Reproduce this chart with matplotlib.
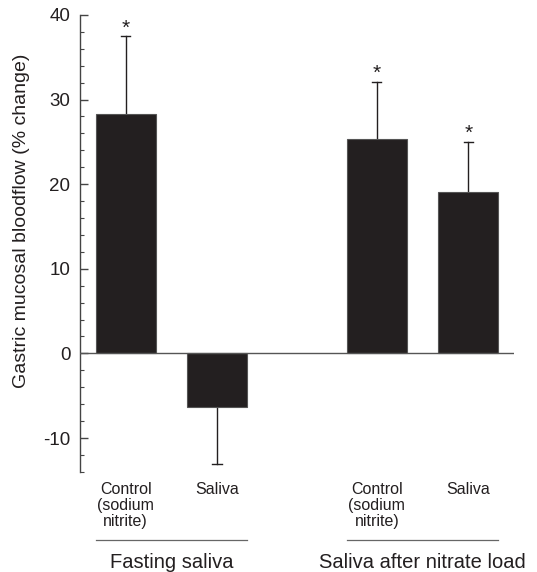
import matplotlib
matplotlib.use("Agg")
import matplotlib.pyplot as plt
import matplotlib.transforms as mtransforms
from matplotlib.ticker import MultipleLocator

plt.rcParams['font.family'] = ['Liberation Sans', 'DejaVu Sans']
plt.rcParams['axes.unicode_minus'] = False

# mean % change and SEM for each condition
categories = ['Control\n(sodium\nnitrite)', 'Saliva', 'Control\n(sodium\nnitrite)', 'Saliva']
means = [28.3, -6.3, 25.3, 19.1]
errors = [9.2, 6.8, 6.8, 5.9]
significant = [True, False, True, True]
groups = ['Fasting saliva', 'Saliva after nitrate load']
positions = [0, 1, 2.75, 3.75]

ink = '#231f20'

fig = plt.figure(figsize=(5.37, 5.72), dpi=100)
ax = fig.add_axes([0.149, 0.175, 0.808, 0.799])

ax.bar(positions, means, width=0.66, color=ink, edgecolor='#555555', linewidth=0.8, zorder=2)

# one-sided error bars pointing away from zero
for x, m, e, sig in zip(positions, means, errors, significant):
    end = m + e if m >= 0 else m - e
    ax.plot([x, x], [m, end], color=ink, lw=1.0, zorder=1)
    ax.plot([x - 0.05, x + 0.05], [end, end], color=ink, lw=1.0, zorder=1)
    if sig:
        ax.annotate('*', (x, end), xytext=(0, -1), textcoords='offset points',
                    ha='center', va='bottom', fontsize=15, color=ink)

ax.axhline(0, color='#555555', lw=1.0, zorder=3)

ax.set_xlim(-0.5, 4.25)
ax.set_ylim(-14, 40)
for s in ['top', 'right', 'bottom']:
    ax.spines[s].set_visible(False)
ax.spines['left'].set_color('#444444')
ax.spines['left'].set_linewidth(1.0)

ax.yaxis.set_major_locator(MultipleLocator(10))
ax.yaxis.set_minor_locator(MultipleLocator(2))
ax.tick_params(axis='y', which='major', direction='in', length=6, width=1.0,
               color='#444444', labelsize=13.5, labelcolor=ink, pad=7)
ax.tick_params(axis='y', which='minor', direction='in', length=3, width=0.8, color='#444444')

ax.set_xticks(positions)
ax.set_xticklabels(categories, fontsize=11.5, color=ink, linespacing=1.1)
ax.tick_params(axis='x', length=0, pad=7)

ax.set_ylabel('Gastric mucosal bloodflow (% change)', fontsize=14, color=ink)
ax.yaxis.set_label_coords(-0.115, 0.55)

# group brackets under the category labels
trans = mtransforms.blended_transform_factory(ax.transData, ax.transAxes)
for (a, b), name in zip([(positions[0], positions[1]), (positions[2], positions[3])], groups):
    ax.plot([a - 0.33, b + 0.33], [-0.149, -0.149], color='#666666', lw=0.9,
            transform=trans, clip_on=False)
    ax.text((a + b) / 2, -0.198, name, transform=trans, ha='center', va='center',
            fontsize=14.5, color=ink)

fig.savefig('out.png', dpi=100)
